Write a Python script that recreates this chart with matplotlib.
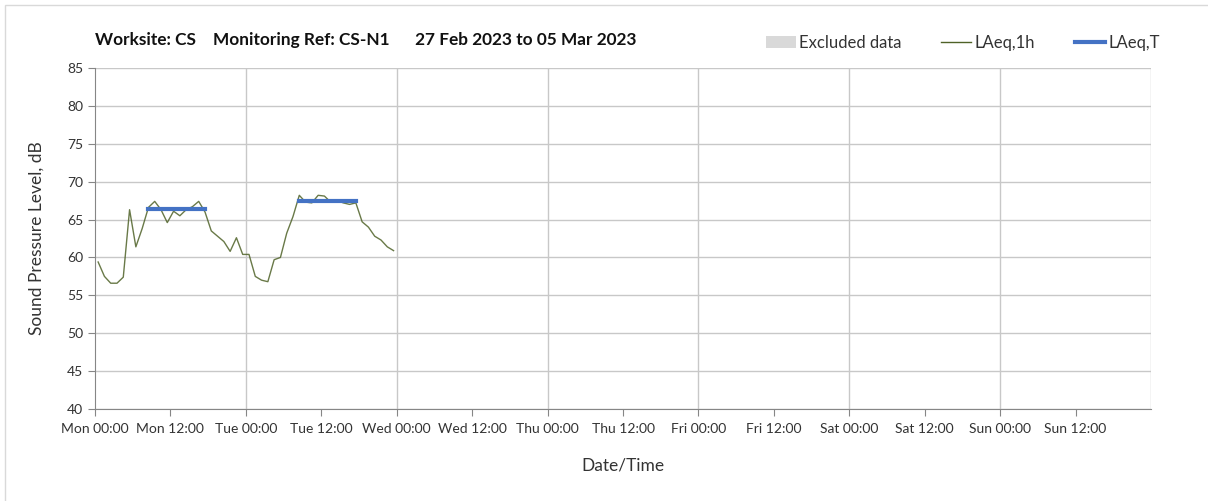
import matplotlib
matplotlib.use('Agg')
import matplotlib.pyplot as plt
from matplotlib.patches import Rectangle
from matplotlib.lines import Line2D
from matplotlib.patches import Patch
import numpy as np

plt.rcParams['font.family'] = ['Lato', 'DejaVu Sans']

# hourly LAeq values, plotted at the middle of each hour (hours from Mon 00:00)
hours = np.arange(48) + 0.5
laeq_1h = [59.4, 57.5, 56.6, 56.6, 57.4, 66.3, 61.4, 63.8, 66.6, 67.4,
           66.3, 64.6, 66.1, 65.5, 66.3, 66.7, 67.4, 66.0, 63.5, 62.8,
           62.1, 60.8, 62.6, 60.4, 60.4, 57.5, 57.0, 56.8, 59.7, 60.0,
           63.2, 65.4, 68.2, 67.3, 67.2, 68.2, 68.1, 67.3, 67.5, 67.2,
           67.0, 67.2, 64.7, 64.0, 62.8, 62.3, 61.4, 60.9]

# LAeq,T over the daytime period (first and last hour in period)
period_start = [8.5, 32.5]
period_end = [17.5, 41.5]
laeq_t = [66.4, 67.5]

tick_labels = ['Mon 00:00', 'Mon 12:00', 'Tue 00:00', 'Tue 12:00', 'Wed 00:00',
               'Wed 12:00', 'Thu 00:00', 'Thu 12:00', 'Fri 00:00', 'Fri 12:00',
               'Sat 00:00', 'Sat 12:00', 'Sun 00:00', 'Sun 12:00']

fig = plt.figure(figsize=(12.08, 5.01), dpi=100)
fig.patches.append(Rectangle((5 / 1208, -0.01), 1.02, 1 - 5 / 501 + 0.01,
                             transform=fig.transFigure, fill=False,
                             edgecolor='#d9d9d9', lw=1))
ax = fig.add_axes([95 / 1208, 1 - 409 / 501, 1056 / 1208, 341 / 501])

ax.plot(hours, laeq_1h, color='#4f6228', lw=1, alpha=0.85, zorder=3)
for s, e, v in zip(period_start, period_end, laeq_t):
    ax.plot([s, e], [v, v], color='#4472c4', lw=3, solid_capstyle='projecting', zorder=4)

ax.set_xlim(0, 168)
ax.set_ylim(40, 85)
ax.set_yticks(np.arange(40, 86, 5))
ax.set_xticks(np.arange(0, 168, 12))
ax.set_xticklabels(tick_labels, fontsize=10, color='#333333')
ax.tick_params(axis='y', labelsize=10, colors='#333333', length=5, color='#868686')
ax.tick_params(axis='x', length=5, color='#868686', pad=5)

ax.yaxis.grid(True, color='#c8c8c8', lw=1)
for d in range(24, 169, 24):
    ax.axvline(d, color='#c8c8c8', lw=1, zorder=1)
ax.set_axisbelow(True)

for side in ['top', 'right']:
    ax.spines[side].set_visible(False)
for side in ['left', 'bottom']:
    ax.spines[side].set_color('#868686')

ax.set_ylabel('Sound Pressure Level, dB', fontsize=12.5, color='#333333', labelpad=16)
ax.set_xlabel('Date/Time', fontsize=12.5, color='#333333', labelpad=16)

fig.text(95 / 1208, 1 - 40 / 501,
         'Worksite: CS    Monitoring Ref: CS-N1      27 Feb 2023 to 05 Mar 2023',
         fontsize=12.4, fontweight='bold', color='#111111', va='center')

handles = [Patch(facecolor='#d9d9d9', edgecolor='none'),
           Line2D([0], [0], color='#4f6228', lw=1),
           Line2D([0], [0], color='#4472c4', lw=3)]
fig.legend(handles, ['Excluded data', 'LAeq,1h', 'LAeq,T'],
           loc='center right', bbox_to_anchor=(1175 / 1208, 1 - 43 / 501),
           ncol=3, frameon=False, fontsize=12, handlelength=1.8,
           handletextpad=0.2, columnspacing=2.4, labelcolor='#333333')

fig.savefig('out.png', dpi=100)
